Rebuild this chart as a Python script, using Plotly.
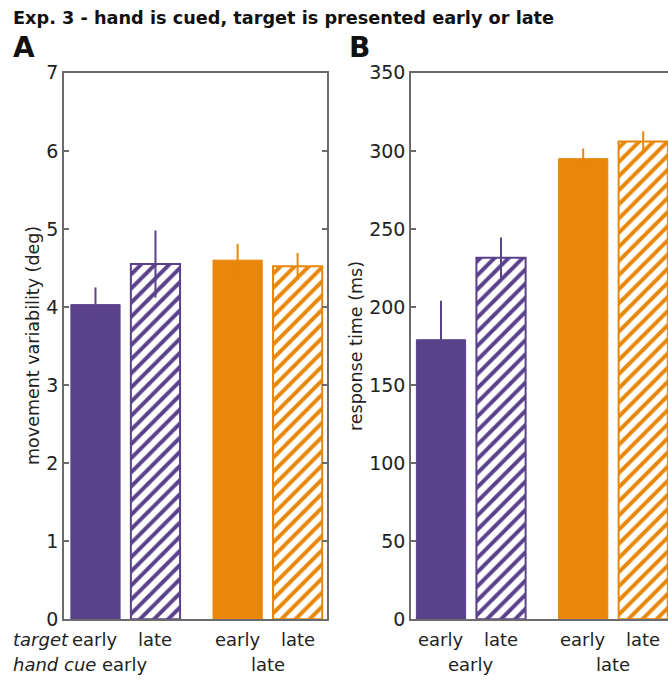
import plotly.graph_objects as go

# ---- data ----
positions = [0, 1, 2.37, 3.37]
target_labels = ["early", "late", "early", "late"]
hand_cue_labels = ["early", "late"]
variability = [4.03, 4.55, 4.60, 4.52]
variability_err = [0.22, 0.43, 0.21, 0.17]
response_time = [179, 231.5, 295, 306]
response_time_err = [25, 13, 6.5, 6.5]

PURPLE = "#5a418b"
ORANGE = "#e8870a"
colors = [PURPLE, PURPLE, ORANGE, ORANGE]
hatched = [False, True, False, True]

W, H = 668, 680
FONT = "DejaVu Sans, Liberation Sans, Arial, sans-serif"
AX = "#6b6b6b"

def px_x(x):
    return x / W

def px_y(y):
    return 1 - (y - 10) / 660

fig = go.Figure()

def add_bars(vals, errs, xa, ya):
    for i in range(4):
        c = colors[i]
        if hatched[i]:
            marker = dict(color="white", opacity=1, line=dict(color=c, width=2),
                          pattern=dict(shape="/", fgcolor=c, bgcolor="white",
                                       fgopacity=1, fillmode="replace",
                                       size=10, solidity=0.4))
        else:
            marker = dict(color=c, opacity=1, line=dict(color=c, width=1))
        fig.add_trace(go.Bar(
            x=[positions[i]], y=[vals[i]], width=0.82, marker=marker,
            error_y=dict(type="data", array=[errs[i]], color=c, thickness=2, width=0),
            xaxis=xa, yaxis=ya, showlegend=False, cliponaxis=True))

add_bars(variability, variability_err, "x", "y")
add_bars(response_time, response_time_err, "x2", "y2")

ydom = [px_y(620), px_y(72)]
xaxis_common = dict(showline=True, linecolor=AX, linewidth=1.5, ticks="",
                    showticklabels=False, showgrid=False, zeroline=False)
yaxis_common = dict(showline=True, linecolor=AX, linewidth=1.5, ticks="inside",
                    ticklen=5, tickcolor=AX, tickwidth=1.5, showgrid=False,
                    zeroline=False, tickfont=dict(family=FONT, size=19, color="#222"))

fig.update_layout(
    width=W, height=H, margin=dict(l=0, r=0, t=0, b=0),
    plot_bgcolor="white", paper_bgcolor="white", barmode="group",
    xaxis=dict(domain=[px_x(64), px_x(327)], range=[-0.525, 3.86], mirror=True,
               anchor="y", **xaxis_common),
    yaxis=dict(domain=ydom, range=[0, 7], dtick=1, mirror="ticks", anchor="x",
               **yaxis_common),
    xaxis2=dict(domain=[px_x(411), 1.0], range=[-0.5, 3.783], mirror=True,
                anchor="y2", **xaxis_common),
    yaxis2=dict(domain=ydom, range=[0, 350], dtick=50, mirror=False, anchor="x2",
                **yaxis_common),
)

ann = []
ann.append(dict(text="<b>Exp. 3 - hand is cued, target is presented early or late</b>",
                x=px_x(11), y=px_y(17), xref="paper", yref="paper",
                xanchor="left", yanchor="middle", showarrow=False,
                font=dict(family=FONT, size=17.7, color="#111")))
for lab, x in [("A", 11), ("B", 347)]:
    ann.append(dict(text=f"<b>{lab}</b>", x=px_x(x), y=px_y(47), xref="paper",
                    yref="paper", xanchor="left", yanchor="middle", showarrow=False,
                    font=dict(family=FONT, size=28, color="#111")))
ymid = (ydom[0] + ydom[1]) / 2
ann.append(dict(text="movement variability (deg)", x=px_x(33), y=ymid, xref="paper",
                yref="paper", textangle=-90, showarrow=False, xanchor="center",
                yanchor="middle", font=dict(family=FONT, size=17.5, color="#222")))
ann.append(dict(text="response time (ms)", x=px_x(356), y=ymid, xref="paper",
                yref="paper", textangle=-90, showarrow=False, xanchor="center",
                yanchor="middle", font=dict(family=FONT, size=17.5, color="#222")))

row1 = px_y(640)
row2 = px_y(665)
lab_font = dict(family=FONT, size=18, color="#222")
for xr in ["x", "x2"]:
    for i in range(4):
        ann.append(dict(text=target_labels[i], x=positions[i], y=row1, xref=xr,
                        yref="paper", showarrow=False, xanchor="center",
                        yanchor="middle", font=lab_font))
    for g in range(2):
        xc = (positions[2 * g] + positions[2 * g + 1]) / 2
        ann.append(dict(text=hand_cue_labels[g], x=xc, y=row2, xref=xr,
                        yref="paper", showarrow=False, xanchor="center",
                        yanchor="middle", font=lab_font))
ann.append(dict(text="<i>target</i>", x=px_x(11), y=row1, xref="paper", yref="paper",
                showarrow=False, xanchor="left", yanchor="middle", font=lab_font))
ann.append(dict(text="<i>hand cue</i>", x=px_x(11), y=row2, xref="paper", yref="paper",
                showarrow=False, xanchor="left", yanchor="middle", font=lab_font))
fig.update_layout(annotations=ann)

fig.write_html("out.html", config={"displayModeBar": False},
               post_script="document.body.style.margin='0';document.body.style.overflow='hidden';")
